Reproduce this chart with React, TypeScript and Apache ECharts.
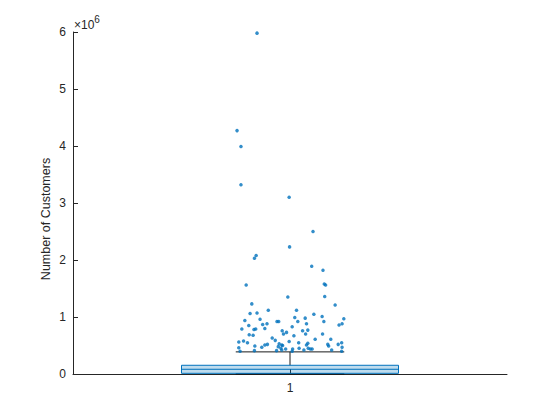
import React, { useEffect, useRef } from "react";
import * as echarts from "echarts";

const categories = ["1"];
const boxStats = { q1: 0.012e6, median: 0.083e6, q3: 0.153e6, whiskerLow: 0, whiskerHigh: 0.388e6 };

const outlierX = [
  0.924, 0.878, 0.887, 0.887, 0.998, 1.053, 0.999, 0.922, 0.918, 1.05,
  1.076, 1.079, 1.082, 0.899, 0.995, 1.08, 0.912, 1.104, 0.908, 0.924,
  0.95, 1.015, 1.055, 1.074, 0.896, 0.931, 0.97, 0.974, 1.011, 1.035,
  1.124, 1.078, 1.018, 0.905, 0.937, 0.947, 1.005, 1.038, 1.113, 1.12,
  0.889, 0.917, 0.921, 0.942, 0.982, 0.992, 0.985, 1.029, 1.041, 0.906,
  0.915, 1.009, 1.036, 1.075, 0.959, 0.966, 1.058, 1.094, 0.882, 0.893,
  0.902, 0.948, 0.942, 0.975, 0.981, 0.998, 1.02, 1.041, 1.038, 1.087,
  1.111, 1.119, 0.882, 0.919, 0.935, 0.973, 0.979, 0.983, 1.021, 1.042,
  1.047, 1.051, 1.089, 1.12, 0.885, 0.918, 0.969, 0.981, 0.99, 1.006,
  1.005, 1.032, 1.096, 1.119,
];
const outlierMillions = [
  5.98, 4.27, 3.99, 3.32, 3.1, 2.5, 2.23, 2.08, 2.03, 1.89,
  1.82, 1.58, 1.56, 1.56, 1.35, 1.36, 1.23, 1.21, 1.06, 1.07,
  1.12, 1.12, 1.05, 1.01, 0.94, 0.96, 0.92, 0.92, 0.99, 0.98,
  0.97, 0.92, 0.92, 0.85, 0.87, 0.88, 0.83, 0.88, 0.86, 0.88,
  0.79, 0.78, 0.79, 0.8, 0.76, 0.73, 0.7, 0.76, 0.77, 0.69,
  0.68, 0.67, 0.7, 0.7, 0.63, 0.59, 0.61, 0.61, 0.56, 0.58,
  0.55, 0.52, 0.51, 0.53, 0.51, 0.57, 0.55, 0.54, 0.51, 0.52,
  0.52, 0.55, 0.46, 0.49, 0.47, 0.48, 0.45, 0.5, 0.45, 0.45,
  0.44, 0.44, 0.49, 0.47, 0.4, 0.41, 0.41, 0.42, 0.44, 0.44,
  0.4, 0.42, 0.42, 0.4,
];
const yTicks = [0, 1, 2, 3, 4, 5, 6];

const BLUE = "#0072BD";
const TEXT = "#262626";
const FONT = "'Liberation Sans', Arial, sans-serif";

export default function App() {
  const ref = useRef<HTMLDivElement>(null);
  useEffect(() => {
    if (!ref.current) return;
    const chart = echarts.init(ref.current, undefined, { renderer: "svg" });
    const scatterData = outlierX.map((x, i) => [x, outlierMillions[i] * 1e6]);
    const boxW = 0.5;
    const capW = 0.25;
    chart.setOption({
      animation: false,
      backgroundColor: "#ffffff",
      grid: { left: 73, right: 53, top: 32, bottom: 46, containLabel: false },
      xAxis: [
        {
          type: "category",
          data: categories,
          boundaryGap: true,
          axisLine: { show: true, lineStyle: { color: TEXT, width: 1 } },
          axisTick: { show: true, inside: true, alignWithLabel: true, length: 5, lineStyle: { color: TEXT } },
          axisLabel: { color: TEXT, fontSize: 12, fontFamily: FONT, margin: 8 },
          splitLine: { show: false },
        },
        {
          type: "value",
          min: 0.5,
          max: 1.5,
          show: false,
        },
      ],
      yAxis: {
        type: "value",
        min: 0,
        max: 6e6,
        interval: 1e6,
        axisLine: { show: true, lineStyle: { color: TEXT, width: 1 } },
        axisTick: { show: true, inside: true, length: 5, lineStyle: { color: TEXT } },
        axisLabel: {
          color: TEXT,
          fontSize: 12,
          fontFamily: FONT,
          margin: 7,
          formatter: (v: number) => {
            const m = Math.round(v / 1e6);
            return yTicks.includes(m) ? String(m) : "";
          },
        },
        splitLine: { show: false },
      },
      graphic: [
        {
          type: "text",
          x: 74,
          y: 12,
          style: {
            text: "{a|×10}{b|6}",
            rich: {
              a: { fontSize: 12, fontFamily: FONT, fill: TEXT, padding: [7, 0, 0, 0] },
              b: { fontSize: 10, fontFamily: FONT, fill: TEXT, padding: [0, 0, 5, 0] },
            },
          },
        },
        {
          type: "text",
          x: 46,
          y: 219,
          rotation: Math.PI / 2,
          style: {
            text: "Number of Customers",
            fontSize: 12.5,
            fontFamily: FONT,
            fill: TEXT,
            align: "center",
            verticalAlign: "middle",
          },
        },
      ],
      series: [
        {
          type: "custom",
          xAxisIndex: 1,
          yAxisIndex: 0,
          z: 2,
          data: [[1, boxStats.q1, boxStats.median, boxStats.q3, boxStats.whiskerLow, boxStats.whiskerHigh]],
          renderItem: (params: any, api: any) => {
            const x = api.value(0);
            const q1 = api.value(1);
            const med = api.value(2);
            const q3 = api.value(3);
            const wl = api.value(4);
            const wh = api.value(5);
            const tl = api.coord([x - boxW / 2, q3]);
            const br = api.coord([x + boxW / 2, q1]);
            const mL = api.coord([x - boxW / 2, med]);
            const mR = api.coord([x + boxW / 2, med]);
            const c3 = api.coord([x, q3]);
            const c1 = api.coord([x, q1]);
            const ch = api.coord([x, wh]);
            const cl = api.coord([x, wl]);
            const capL = api.coord([x - capW / 2, wh]);
            const capR = api.coord([x + capW / 2, wh]);
            const capLl = api.coord([x - capW / 2, wl]);
            const capRl = api.coord([x + capW / 2, wl]);
            return {
              type: "group",
              children: [
                { type: "line", shape: { x1: c3[0], y1: c3[1], x2: ch[0], y2: ch[1] }, style: { stroke: "#1a1a1a", lineWidth: 1 } },
                { type: "line", shape: { x1: c1[0], y1: c1[1], x2: cl[0], y2: cl[1] }, style: { stroke: "#1a1a1a", lineWidth: 1 } },
                { type: "line", shape: { x1: capL[0], y1: capL[1], x2: capR[0], y2: capR[1] }, style: { stroke: "#1a1a1a", lineWidth: 1 } },
                { type: "line", shape: { x1: capLl[0], y1: capLl[1], x2: capRl[0], y2: capRl[1] }, style: { stroke: "#1a1a1a", lineWidth: 1.5 } },
                {
                  type: "rect",
                  shape: { x: tl[0], y: tl[1], width: br[0] - tl[0], height: br[1] - tl[1] },
                  style: { fill: "rgba(0,114,189,0.25)", stroke: BLUE, lineWidth: 1 },
                },
                { type: "line", shape: { x1: mL[0], y1: mL[1], x2: mR[0], y2: mR[1] }, style: { stroke: BLUE, lineWidth: 1 } },
              ],
            };
          },
        },
        {
          type: "scatter",
          xAxisIndex: 1,
          yAxisIndex: 0,
          z: 3,
          symbol: "circle",
          symbolSize: 3.5,
          itemStyle: { color: BLUE },
          data: scatterData,
        },
      ],
    });
    return () => chart.dispose();
  }, []);
  return <div ref={ref} style={{ position: "fixed", left: 0, top: 0, width: 560, height: 420 }} />;
}
